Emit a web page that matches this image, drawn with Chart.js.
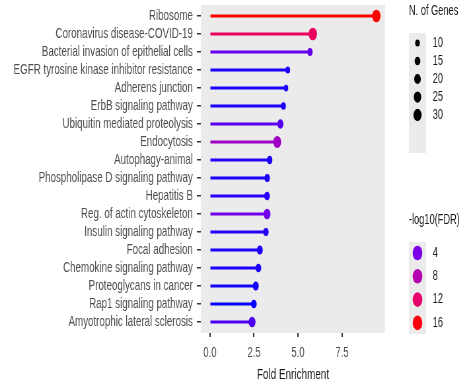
<!DOCTYPE html>
<html>
<head>
<meta charset="utf-8">
<script src="https://cdn.jsdelivr.net/npm/chart.js@4.4.1/dist/chart.umd.min.js"></script>
<style>
  html, body { margin: 0; padding: 0; background: #ffffff; overflow: hidden; }
  #frame { width: 473px; height: 384px; overflow: hidden; position: relative; }
  /* the figure is laid out on a wide canvas and squeezed horizontally */
  #wrap { width: 716px; height: 384px; transform: scaleX(0.6606); transform-origin: 0 0; }
  #c { display: block; }
</style>
</head>
<body>
<div id="frame"><div id="wrap"><canvas id="c" width="716" height="384" style="width:716px;height:384px"></canvas></div></div>
<script>
// KEGG pathway enrichment
const pathways = [
  'Ribosome',
  'Coronavirus disease-COVID-19',
  'Bacterial invasion of epithelial cells',
  'EGFR tyrosine kinase inhibitor resistance',
  'Adherens junction',
  'ErbB signaling pathway',
  'Ubiquitin mediated proteolysis',
  'Endocytosis',
  'Autophagy-animal',
  'Phospholipase D signaling pathway',
  'Hepatitis B',
  'Reg. of actin cytoskeleton',
  'Insulin signaling pathway',
  'Focal adhesion',
  'Chemokine signaling pathway',
  'Proteoglycans in cancer',
  'Rap1 signaling pathway',
  'Amyotrophic lateral sclerosis'
];
const foldEnrichment = [9.45, 5.84, 5.68, 4.42, 4.32, 4.17, 4.0, 3.82, 3.39, 3.25, 3.24, 3.24, 3.18, 2.83, 2.75, 2.6, 2.49, 2.39];
const nGenes = [32, 32, 12, 10, 9, 11, 17, 28, 14, 13, 15, 22, 13, 16, 15, 16, 15, 22];
const negLog10FDR = [16.5, 12.5, 3.5, 2.0, 1.9, 2.0, 3.3, 6.5, 2.1, 2.0, 2.2, 3.8, 2.1, 2.0, 2.0, 1.8, 1.4, 3.0];
const xTicks = [0, 2.5, 5.0, 7.5];
const sizeBreaks = [10, 15, 20, 25, 30];
const colorBreaks = [4, 8, 12, 16];

// blue -> red colour ramp for -log10(FDR)
const rampStops = [
  [1.4, [0, 0, 255]],
  [4, [124, 0, 232]],
  [8, [182, 0, 178]],
  [12, [230, 0, 106]],
  [16.5, [255, 0, 0]]
];
function rampColor(v) {
  if (v <= rampStops[0][0]) return 'rgb(' + rampStops[0][1].join(',') + ')';
  for (let i = 1; i < rampStops.length; i++) {
    const [v1, c1] = rampStops[i];
    const [v0, c0] = rampStops[i - 1];
    if (v <= v1) {
      const t = (v - v0) / (v1 - v0);
      const c = c0.map((a, k) => Math.round(a + (c1[k] - a) * t));
      return 'rgb(' + c.join(',') + ')';
    }
  }
  return 'rgb(' + rampStops[rampStops.length - 1][1].join(',') + ')';
}
// dot diameter from gene count
function dotSize(n) { return 2.25 * Math.sqrt(n); }

const colors = negLog10FDR.map(rampColor);
const radii = nGenes.map(n => dotSize(n) / 2);

const FONT = "'Liberation Sans', Arial, sans-serif";

const panelPlugin = {
  id: 'panel',
  beforeDatasetsDraw(chart) {
    const { ctx, chartArea: a } = chart;
    ctx.save();
    ctx.fillStyle = '#ebebeb';
    ctx.fillRect(a.left, a.top - 2, a.right - a.left, a.bottom - a.top + 4);
    ctx.restore();
  }
};

const legendPlugin = {
  id: 'ggLegends',
  afterDraw(chart) {
    const ctx = chart.ctx;
    const x0 = 619, keyW = 26, keyX = 632, labX = 655;
    ctx.save();
    ctx.textBaseline = 'middle';
    ctx.textAlign = 'left';
    // size legend
    ctx.fillStyle = '#1a1a1a';
    ctx.font = '14px ' + FONT;
    ctx.fillText('N. of Genes', x0, 11);
    ctx.fillStyle = '#ebebeb';
    ctx.fillRect(x0, 33, keyW, 120);
    sizeBreaks.forEach((n, i) => {
      const y = 43 + i * 18;
      ctx.fillStyle = '#000000';
      ctx.beginPath();
      ctx.arc(keyX, y, dotSize(n) / 2, 0, Math.PI * 2);
      ctx.fill();
      ctx.fillStyle = '#1a1a1a';
      ctx.font = '14px ' + FONT;
      ctx.fillText(String(n), labX, y);
    });
    // colour legend
    ctx.fillStyle = '#1a1a1a';
    ctx.font = '14px ' + FONT;
    ctx.fillText('-log10(FDR)', x0, 220);
    ctx.fillStyle = '#ebebeb';
    ctx.fillRect(x0, 242, keyW, 92);
    colorBreaks.forEach((v, i) => {
      const y = 253 + i * 23.3;
      ctx.fillStyle = rampColor(v);
      ctx.beginPath();
      ctx.arc(keyX, y, 7.3, 0, Math.PI * 2);
      ctx.fill();
      ctx.fillStyle = '#1a1a1a';
      ctx.font = '14px ' + FONT;
      ctx.fillText(String(v), labX, y);
    });
    ctx.restore();
  }
};

new Chart(document.getElementById('c'), {
  type: 'bar',
  data: {
    labels: pathways,
    datasets: [
      {
        type: 'bar',
        data: foldEnrichment,
        backgroundColor: colors,
        borderWidth: 0,
        barThickness: 2.2,
        order: 2
      },
      {
        type: 'line',
        data: foldEnrichment,
        showLine: false,
        pointStyle: 'circle',
        pointRadius: radii,
        pointBackgroundColor: colors,
        pointBorderWidth: 0,
        order: 1
      }
    ]
  },
  options: {
    indexAxis: 'y',
    responsive: false,
    animation: false,
    devicePixelRatio: 1,
    layout: { padding: { top: 7, right: 133, bottom: 0, left: 0 } },
    plugins: { legend: { display: false }, tooltip: { enabled: false } },
    scales: {
      x: {
        type: 'linear',
        min: -0.52,
        max: 9.95,
        afterBuildTicks(scale) { scale.ticks = xTicks.map(v => ({ value: v })); },
        afterFit(scale) { scale.height = 53; scale.paddingLeft = 0; scale.paddingRight = 0; },
        grid: { drawOnChartArea: false, tickLength: 6, color: '#333333', lineWidth: 2 },
        border: { display: false },
        ticks: {
          color: '#4d4d4d',
          font: { family: FONT, size: 14.5 },
          padding: 7,
          maxRotation: 0,
          callback: v => Number(v).toFixed(1)
        },
        title: {
          display: true,
          text: 'Fold Enrichment',
          color: '#1a1a1a',
          font: { family: FONT, size: 15 },
          padding: { top: 4, bottom: 0 }
        }
      },
      y: {
        type: 'category',
        offset: true,
        afterFit(scale) { scale.width = 304; scale.paddingTop = 0; scale.paddingBottom = 0; },
        grid: { drawOnChartArea: false, offset: false, tickLength: 6, color: '#333333', lineWidth: 1.5 },
        border: { display: false },
        ticks: {
          color: '#4d4d4d',
          font: { family: FONT, size: 14.8 },
          padding: 6,
          autoSkip: false
        }
      }
    }
  },
  plugins: [panelPlugin, legendPlugin]
});
</script>
</body>
</html>
